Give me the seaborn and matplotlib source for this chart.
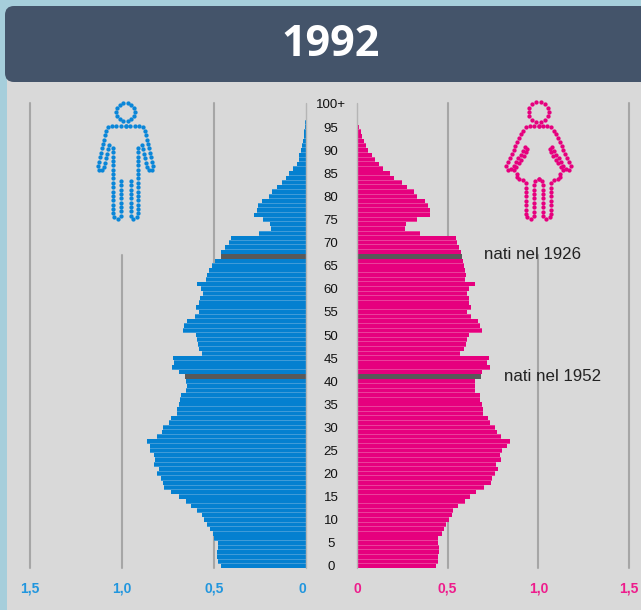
import numpy as np
import pandas as pd
import matplotlib
matplotlib.use("Agg")
import matplotlib.pyplot as plt
from matplotlib.patches import FancyBboxPatch, Rectangle
from matplotlib.transforms import ScaledTranslation
import seaborn as sns

# ---------- data (millions of people, by single year of age) ----------
males = [.462,.48,.483,.485,.476,.476,.50,.507,.52,.54,
         .556,.565,.59,.625,.65,.69,.733,.773,.775,.79,
         .81,.80,.824,.82,.824,.846,.848,.864,.81,.784,
         .775,.746,.733,.70,.70,.692,.683,.677,.65,.648,
         .65,.658,.688,.728,.715,.723,.563,.583,.589,.594,
         .60,.667,.663,.647,.605,.58,.596,.583,.578,.562,
         .569,.592,.542,.538,.529,.51,.495,.462,.464,.438,
         .418,.408,.254,.19,.196,.236,.281,.268,.259,.241,
         .203,.187,.159,.132,.109,.091,.072,.051,.04,.038,
         .029,.022,.016,.013,.009,.005,.004,.002,.001,.001]
females = [.435,.444,.448,.453,.453,.444,.449,.468,.479,.49,
           .51,.523,.532,.556,.595,.622,.659,.702,.74,.746,
           .759,.779,.768,.796,.786,.80,.825,.845,.796,.772,
           .762,.735,.72,.694,.694,.689,.68,.676,.648,.652,
           .652,.683,.689,.731,.716,.727,.569,.589,.602,.608,
           .615,.687,.68,.668,.628,.608,.628,.619,.615,.608,
           .617,.65,.598,.60,.598,.591,.584,.578,.573,.564,
           .554,.545,.346,.262,.269,.331,.405,.405,.394,.376,
           .333,.315,.274,.249,.204,.182,.145,.123,.099,.085,
           .063,.05,.037,.028,.02,.011,.006,.003,.002,.001]
ages = list(range(len(males)))
cohort_ages = [41, 67]
cohort_labels = ["nati nel 1952", "nati nel 1926"]
age_ticks = list(range(0, 101, 5))
age_ticklabels = [str(a) for a in age_ticks[:-1]] + ["100+"]
x_ticks = [0, 0.5, 1.0, 1.5]
x_ticklabels = ["0", "0,5", "1,0", "1,5"]
title = "1992"

BLUE, PINK, GREY_BAR = "#0480d0", "#e6007e", "#595959"
BLUE_GAP, PINK_GAP = "#3f9bd8", "#ea3f9b"
BLUE_T, PINK_T = "#2196de", "#ee1c8c"
GRID = "#a6a6a6"
W, H = 641, 610

sns.set_theme(style="white")
plt.rcParams["font.family"] = ["Liberation Sans", "DejaVu Sans"]

df = pd.DataFrame({"age": ages, "m": males, "f": females})
fig = plt.figure(figsize=(W / 100, H / 100), dpi=100, facecolor="#a6cedb")


def box(l, t, r, b):
    return [l / W, 1 - b / H, (r - l) / W, (b - t) / H]


# ---------- page furniture ----------
bg = fig.add_axes([0, 0, 1, 1], zorder=0)
bg.set_xlim(0, W)
bg.set_ylim(H, 0)
bg.axis("off")
bg.add_patch(Rectangle((7, 78), W, H, fc="#d9d9d9", ec="none"))
bg.add_patch(FancyBboxPatch((13, 14), W, 60, boxstyle="round,pad=8,rounding_size=9",
                            fc="#44546a", ec="none"))
bg.text(331, 45, title, color="white", ha="center", va="center",
        fontsize=31, fontweight="bold", family="Open Sans")

# ---------- the two halves ----------
TOP, BOTTOM = 103, 568
PX_AGE = 4.62
ylim = ((566 - BOTTOM) / PX_AGE, (566 - TOP) / PX_AGE)
axL = fig.add_axes(box(30, TOP, 306, BOTTOM), zorder=1)
axR = fig.add_axes(box(357, TOP, 629, BOTTOM), zorder=1)

for ax, col, color, gap in ((axL, "m", BLUE, BLUE_GAP), (axR, "f", PINK, PINK_GAP)):
    # lighter underlay gives the soft seams seen between the bars
    sns.barplot(data=df, x=col, y="age", orient="h", native_scale=True,
                color=gap, saturation=1, width=1.0, ax=ax, zorder=2, linewidth=0)
    sns.barplot(data=df, x=col, y="age", orient="h", native_scale=True,
                color=color, saturation=1, width=0.8, ax=ax, zorder=3, linewidth=0)
    for a in cohort_ages:
        sns.barplot(data=df[df.age == a], x=col, y="age", orient="h", native_scale=True,
                    color=GREY_BAR, saturation=1, width=1.15, ax=ax, zorder=4, linewidth=0)
    ax.set_ylim(*ylim)
    ax.set_xlabel("")
    ax.set_ylabel("")
    ax.patch.set_alpha(0)
    for s in ax.spines.values():
        s.set_visible(False)
    ax.set_xticks(x_ticks)
    ax.set_xticklabels(x_ticklabels)
    ax.axvline(0, color="#b5b5b5", lw=1.0, zorder=5, clip_on=False)
    frac_icon = (255 - TOP) / (BOTTOM - TOP)  # the 1,0 rule stops under the pictogram
    ax.axvline(0.5, color=GRID, lw=1.5, zorder=1, clip_on=False)
    ax.axvline(1.0, ymax=1 - frac_icon, color=GRID, lw=1.5, zorder=1, clip_on=False)
    ax.axvline(1.5, color=GRID, lw=1.5, zorder=1, clip_on=False)

axL.set_xlim(1.5, 0)
axR.set_xlim(0, 1.5)
axL.tick_params(axis="x", length=0, pad=10, labelsize=10, labelcolor=BLUE_T)
axR.tick_params(axis="x", length=0, pad=10, labelsize=10, labelcolor=PINK_T)
for ax in (axL, axR):
    for lab in ax.get_xticklabels():
        lab.set_fontweight("bold")

# shift the left "0" a little off the axis, as in the reference
zero = axL.get_xticklabels()[0]
zero.set_transform(zero.get_transform() + ScaledTranslation(-4 / 100, 0, fig.dpi_scale_trans))

# age labels live in the central gutter
axR.set_yticks([])
axL.yaxis.tick_right()
axL.set_yticks(age_ticks)
axL.set_yticklabels(age_ticklabels, fontsize=9.5, color="#111111", ha="center")
axL.tick_params(axis="y", length=0, pad=18, labelright=True, labelleft=False)

# cohort annotations
for a, lab, xv, yv in zip(cohort_ages, cohort_labels, (0.812, 0.70), (41.1, 67.5)):
    axR.text(xv, yv, lab, fontsize=12.2, color="#222222", va="center", ha="left",
             zorder=6, clip_on=False)


# ---------- dotted pictograms ----------
def sample(path, step=4.4):
    p = np.asarray(path, float)
    d = np.r_[0, np.cumsum(np.hypot(*np.diff(p, axis=0).T))]
    t = np.linspace(0, d[-1], max(int(round(d[-1] / step)), 1) + 1)
    return np.c_[np.interp(t, d, p[:, 0]), np.interp(t, d, p[:, 1])]


def circle(cx, cy, r, n):
    a = np.linspace(0, 2 * np.pi, n, endpoint=False)
    return np.c_[cx + r * np.cos(a), cy + r * np.sin(a)]


def mirror(path, cx):
    return [(2 * cx - x, y) for x, y in path]


ov = fig.add_axes([0, 0, 1, 1], zorder=2)
ov.set_xlim(0, W)
ov.set_ylim(H, 0)
ov.axis("off")

cx = 125.5
man_half = [(cx, 126), (109, 126), (106, 129), (98, 168), (100, 172), (104, 169), (109, 145)]
man_body = [(113, 148), (113, 216), (117, 219.5), (120.5, 216), (120.5, 181)]
man = [circle(cx, 112, 9.3, 14)]
for part in (man_half, man_body):
    man += [sample(part), sample(mirror(part, cx))]
man = np.vstack(man)
ov.scatter(man[:, 0], man[:, 1], s=9.5, color="#0a86d8", linewidths=0)

cx = 538.5
w_half = [(cx, 126), (528, 126), (523.7, 129), (506, 166), (509, 171), (513, 167), (526, 146),
          (528, 150), (514, 170), (518, 175), (516, 178), (522, 179), (525.7, 182), (525.7, 216),
          (530, 219.5), (534, 216), (534, 182), (cx, 179)]
woman = [circle(cx, 112, 10, 14), sample(w_half), sample(mirror(w_half, cx))]
woman = np.vstack(woman)
ov.scatter(woman[:, 0], woman[:, 1], s=9.5, color=PINK, linewidths=0)

fig.savefig("out.png", dpi=100, facecolor=fig.get_facecolor())
